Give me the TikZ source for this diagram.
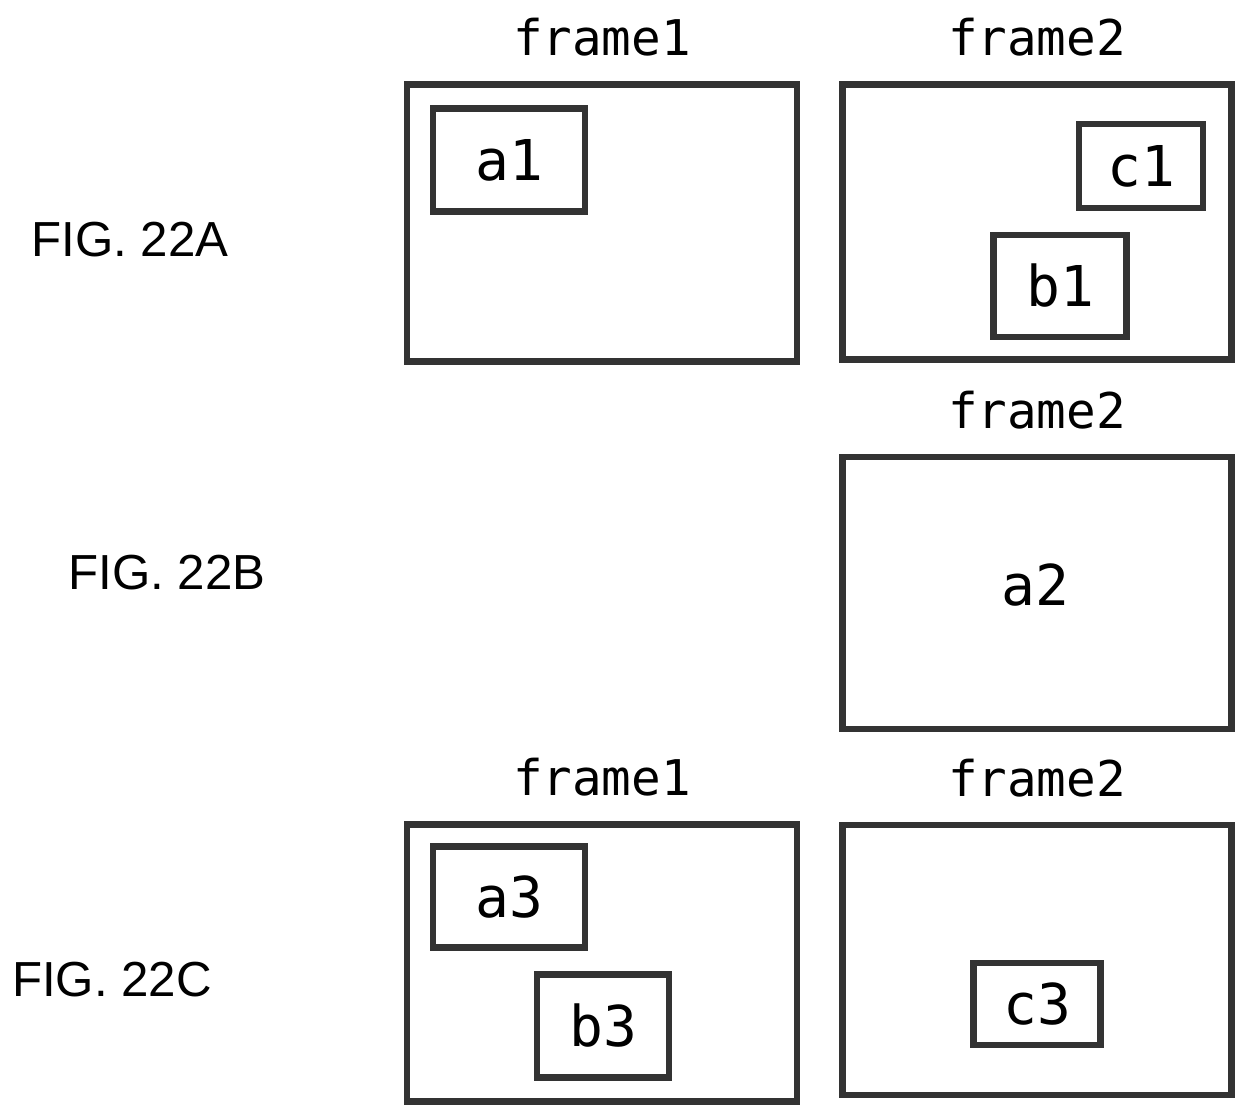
\documentclass[tikz,border=0pt]{standalone}
\usepackage{fontspec}
\setmainfont{Liberation Sans}
\newfontfamily\monofont{DejaVu Sans Mono}
\usetikzlibrary{positioning}

\begin{document}
\begin{tikzpicture}[x=0.01cm, y=-0.01cm,
    frame/.style = {draw=black!80, line width=1.9pt, inner sep=0pt},
    box/.style   = {draw=black!80, line width=1.9pt, inner sep=0pt, font=\monofont\fontsize{16}{16}\selectfont},
    title/.style = {font=\monofont\fontsize{14}{14}\selectfont},
    figlabel/.style = {font=\fontsize{14}{14}\selectfont}]
    \useasboundingbox (0,0) rectangle (1257,1119);

    % FIG. 22A
    \node[figlabel] (figA) at (130,240) {FIG. 22A};
    \node[frame, minimum width=3.9cm, minimum height=2.77cm] (fA1) at (602,223) {};
    \node[frame, minimum width=3.89cm, minimum height=2.75cm] (fA2) at (1037,222) {};
    \node[title, above=0.12cm of fA1] (tA1) {frame1};
    \node[title, above=0.12cm of fA2] (tA2) {frame2};
    \node[box, minimum width=1.52cm, minimum height=1.03cm] (a1) at (509,160) {a1};
    \node[box, minimum width=1.24cm, minimum height=0.84cm] (c1) at (1141,166) {c1};
    \node[box, minimum width=1.33cm, minimum height=1.02cm] (b1) at (1060,286) {b1};

    % FIG. 22B
    \node[figlabel] (figB) at (167,573) {FIG. 22B};
    \node[frame, minimum width=3.89cm, minimum height=2.72cm] (fB2) at (1037,593) {};
    \node[title, above=0.12cm of fB2] (tB2) {frame2};
    \node[font=\monofont\fontsize{16}{16}\selectfont] (a2) at (1035,585) {a2};

    % FIG. 22C
    \node[figlabel] (figC) at (112,980) {FIG. 22C};
    \node[frame, minimum width=3.9cm, minimum height=2.77cm] (fC1) at (602,963) {};
    \node[frame, minimum width=3.89cm, minimum height=2.70cm] (fC2) at (1037,960) {};
    \node[title, above=0.12cm of fC1] (tC1) {frame1};
    \node[title, above=0.12cm of fC2] (tC2) {frame2};
    \node[box, minimum width=1.52cm, minimum height=1.01cm] (a3) at (509,897) {a3};
    \node[box, minimum width=1.32cm, minimum height=1.03cm] (b3) at (603,1026) {b3};
    \node[box, minimum width=1.27cm, minimum height=0.82cm] (c3) at (1037,1004) {c3};
\end{tikzpicture}
\end{document}
